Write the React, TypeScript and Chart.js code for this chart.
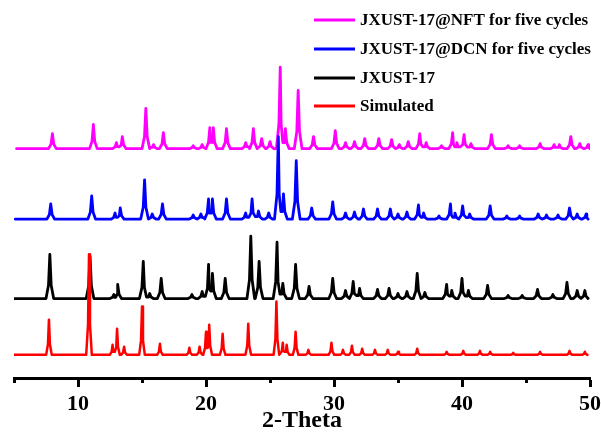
import { useEffect, useRef } from "react";
import { Chart, registerables } from "chart.js";

Chart.register(...registerables);

// ---------- data ----------
const seriesLabels = [
  "JXUST-17@NFT for five cycles",
  "JXUST-17@DCN for five cycles",
  "JXUST-17",
  "Simulated",
];
const seriesColors = ["#FF00FF", "#0000FF", "#000000", "#FF0000"];
// vertical offsets of each stacked pattern (intensity units)
const seriesOffsets = [228, 158, 79, 23];
// 2-theta range covered by each pattern
const seriesStart = [5.2, 5.1, 5.0, 5.0];
const seriesEnd = [50.0, 49.85, 49.85, 49.8];

// JXUST-17@NFT for five cycles: peak positions (2θ) and intensities
const nftPos = [8.0, 11.2, 13.0, 13.46, 15.3, 15.9, 16.67, 19.0, 19.7, 20.3, 20.57, 21.6, 23.1, 23.7, 24.35, 25.0, 25.8, 26.2, 27.2, 28.4, 30.1, 30.9, 31.6, 32.4, 33.5, 34.5, 35.1, 35.8, 36.7, 37.2, 38.4, 39.27, 39.6, 40.16, 40.7, 42.3, 43.6, 44.5, 46.1, 47.2, 47.6, 48.5, 49.2, 49.85];
const nftInt = [15, 24, 6, 12, 40, 4, 16, 3, 4, 21, 21, 20, 6, 20, 10, 7, 81, 20, 58, 12, 18, 6, 7, 10, 10, 9, 4, 7, 15, 6, 3, 16, 6, 14, 5, 14, 3, 3, 5, 4, 4, 12, 5, 4];

// JXUST-17@DCN for five cycles
const dcnPos = [7.87, 11.07, 12.9, 13.3, 15.2, 15.8, 16.6, 19.0, 19.6, 20.2, 20.5, 21.6, 23.1, 23.6, 24.1, 24.9, 25.65, 26.05, 27.05, 28.26, 29.9, 30.9, 31.6, 32.3, 33.4, 34.4, 35.0, 35.7, 36.6, 37.0, 38.2, 39.1, 39.45, 40.05, 40.6, 42.2, 43.5, 44.5, 45.95, 46.6, 47.5, 48.4, 49.0, 49.7];
const dcnInt = [15, 23, 6, 11, 39, 5, 15, 4, 5, 20, 20, 20, 6, 20, 8, 6, 82, 25, 58, 11, 17, 6, 7, 10, 10, 10, 5, 7, 14, 6, 3, 15, 6, 13, 5, 13, 3, 3, 5, 4, 4, 11, 5, 5];

// JXUST-17
const asPos = [7.8, 10.94, 12.8, 13.1, 15.1, 15.6, 16.5, 18.9, 19.7, 20.2, 20.5, 21.5, 23.5, 24.15, 25.55, 26.0, 27.0, 28.05, 29.9, 30.9, 31.5, 32.0, 33.4, 34.3, 35.0, 35.7, 36.5, 37.1, 38.8, 39.2, 40.0, 40.5, 42.0, 43.6, 44.7, 45.9, 47.1, 48.2, 49.0, 49.6];
const asInt = [44, 42, 4, 14, 37, 5, 20, 4, 7, 34, 25, 20, 62, 37, 56, 15, 34, 12, 20, 8, 17, 10, 9, 10, 5, 7, 25, 6, 14, 8, 20, 8, 13, 3, 3, 9, 4, 16, 8, 8];

// Simulated
const simPos = [7.73, 10.86, 12.7, 13.05, 13.6, 15.0, 16.4, 18.7, 19.5, 20.0, 20.25, 21.3, 23.3, 25.5, 26.0, 26.3, 27.0, 28.0, 29.8, 30.7, 31.4, 32.2, 33.2, 34.2, 35.0, 36.5, 38.8, 40.1, 41.4, 42.2, 44.0, 46.1, 48.4, 49.6];
const simInt = [35, 100, 10, 26, 8, 48, 11, 7, 8, 23, 30, 21, 31, 53, 12, 10, 23, 5, 12, 5, 9, 6, 5, 5, 3, 6, 3, 4, 4, 3, 2, 3, 4, 3];

const xTicks = [5, 10, 15, 20, 25, 30, 35, 40, 45, 50];
const xTickLabels = ["", "10", "", "20", "", "30", "", "40", "", "50"];
const minorTicks = [5, 15, 25, 35, 45];
const xTitle = "2-Theta";

const FONT = "'Liberation Serif', 'Times New Roman', serif";

type Pt = { x: number; y: number };

// builds a stick-like profile line from a peak table
function buildProfile(pos: number[], ints: number[], offset: number, start: number, end: number, w: number): Pt[] {
  const pts: Pt[] = [{ x: start, y: offset }];
  for (let i = 0; i < pos.length; i++) {
    const p = pos[i];
    const h = ints[i];
    const leftLim = i > 0 ? (pos[i - 1] + p) / 2 : start;
    const rightLim = i < pos.length - 1 ? (p + pos[i + 1]) / 2 : end;
    const l = Math.max(p - w, leftLim);
    const r = Math.min(p + w, rightLim);
    const lv = p - w < leftLim && i > 0 ? 0.3 * Math.min(ints[i - 1], h) : 0;
    const rv = p + w > rightLim && i < pos.length - 1 ? 0.3 * Math.min(ints[i + 1], h) : 0;
    pts.push({ x: l, y: offset + lv });
    pts.push({ x: p - (p - l) * 0.35, y: offset + Math.max(lv, h * 0.3) });
    pts.push({ x: p, y: offset + h });
    pts.push({ x: p + (r - p) * 0.35, y: offset + Math.max(rv, h * 0.3) });
    pts.push({ x: r, y: offset + rv });
  }
  pts.push({ x: end, y: offset });
  return pts;
}

export default function App() {
  const ref = useRef<HTMLCanvasElement | null>(null);

  useEffect(() => {
    if (!ref.current) return;
    const tables = [
      [nftPos, nftInt],
      [dcnPos, dcnInt],
      [asPos, asInt],
      [simPos, simInt],
    ];
    const widths = [0.3, 0.3, 0.3, 0.22];
    const lineWidths = [2.8, 2.8, 2.8, 2.5];
    const datasets = tables.map((t, i) => ({
      label: seriesLabels[i],
      data: buildProfile(t[0], t[1], seriesOffsets[i], seriesStart[i], seriesEnd[i], widths[i]),
      borderColor: seriesColors[i],
      backgroundColor: seriesColors[i],
      borderWidth: lineWidths[i],
      borderJoinStyle: "round",
      borderCapStyle: "round",
      pointRadius: 0,
      tension: 0,
      fill: false,
    }));
    // draw simulated on top, then JXUST-17, DCN, NFT
    const ordered = [datasets[3], datasets[2], datasets[1], datasets[0]];

    const overlay = {
      id: "overlay",
      afterDraw(chart: any) {
        const ctx = chart.ctx as CanvasRenderingContext2D;
        const xs = chart.scales.x;
        ctx.save();
        ctx.strokeStyle = "#000";
        ctx.lineWidth = 3;
        for (const v of minorTicks) {
          const px = Math.round(xs.getPixelForValue(v)) + 0.5;
          ctx.beginPath();
          ctx.moveTo(px, xs.top);
          ctx.lineTo(px, xs.top + 5);
          ctx.stroke();
        }
        // legend
        const rowsY = [20, 49, 78, 106];
        ctx.font = `bold 17px ${FONT}`;
        ctx.textBaseline = "middle";
        ctx.textAlign = "left";
        for (let i = 0; i < seriesLabels.length; i++) {
          const y = rowsY[i];
          ctx.strokeStyle = seriesColors[i];
          ctx.lineWidth = 3;
          ctx.beginPath();
          ctx.moveTo(314, y);
          ctx.lineTo(355, y);
          ctx.stroke();
          ctx.fillStyle = "#000";
          ctx.fillText(seriesLabels[i], 360, y + 1);
        }
        ctx.restore();
      },
    };

    const chart = new Chart(ref.current, {
      type: "line",
      data: { datasets: ordered as any },
      options: {
        animation: false,
        responsive: false,
        layout: { padding: { left: 14, right: 11, top: 36, bottom: 0 } },
        plugins: { legend: { display: false }, tooltip: { enabled: false } },
        scales: {
          x: {
            type: "linear",
            min: 5,
            max: 50,
            afterBuildTicks: (axis: any) => {
              axis.ticks = xTicks.map((v) => ({ value: v }));
            },
            afterFit: (scale: any) => {
              scale.paddingRight = 0;
              scale.paddingLeft = 0;
            },
            ticks: {
              autoSkip: false,
              maxRotation: 0,
              padding: 6,
              color: "#000",
              font: { family: FONT, size: 22, weight: "bold", lineHeight: 1 },
              callback: (v: any) => {
                const idx = xTicks.indexOf(Number(v));
                return idx >= 0 ? xTickLabels[idx] : "";
              },
            },
            grid: {
              display: true,
              drawOnChartArea: false,
              drawTicks: true,
              tickLength: 9,
              tickWidth: 3,
              tickColor: (c: any) => (c.tick && c.tick.value % 10 === 0 ? "#000" : "rgba(0,0,0,0)"),
            },
            border: { display: true, width: 3, color: "#000" },
            title: {
              display: true,
              text: xTitle,
              color: "#000",
              font: { family: FONT, size: 24, weight: "bold", lineHeight: 1 },
              padding: { top: -12, bottom: 0 },
            },
          },
          y: { display: false, min: 0, max: 340 },
        },
      } as any,
      plugins: [overlay],
    });
    return () => chart.destroy();
  }, []);

  return (
    <div style={{ position: "absolute", left: 0, top: 0, width: 601, height: 433, background: "#fff" }}>
      <canvas ref={ref} width={601} height={433} style={{ display: "block" }} />
    </div>
  );
}
